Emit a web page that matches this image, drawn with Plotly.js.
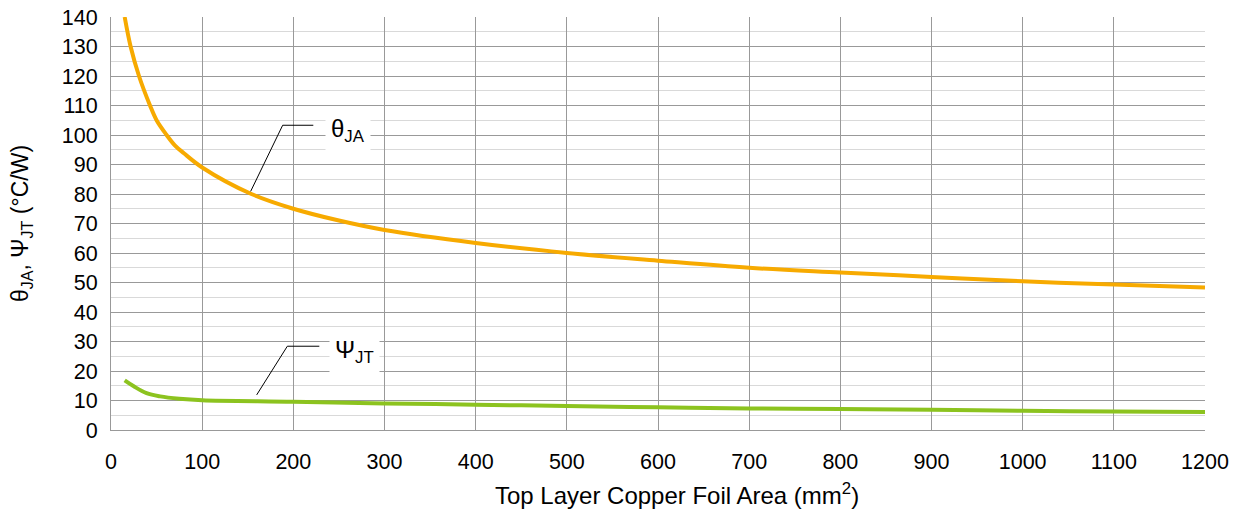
<!DOCTYPE html>
<html>
<head>
<meta charset="utf-8">
<script src="https://cdn.plot.ly/plotly-3.0.1.min.js"></script>
<style>
html,body{margin:0;padding:0;background:#fff;}
#chart{width:1243px;height:514px;}
</style>
</head>
<body>
<div id="chart"></div>
<script>
// Top layer copper foil area (mm^2)
var areaJA = [15, 21.5, 30.7, 42.8, 50, 61, 70, 80, 100, 154, 200, 250, 300, 400, 500, 600, 700, 800, 900, 1000, 1100, 1200];
// theta_JA (°C/W)
var thetaJA = [140, 130, 120, 110, 105, 100, 96.5, 93.8, 89, 80, 75, 71, 67.8, 63.4, 60, 57.4, 55, 53.4, 51.9, 50.4, 49.3, 48.3];

var areaJT = [15, 25, 39, 54, 75, 100, 200, 300, 400, 500, 600, 700, 800, 900, 1000, 1100, 1200];
// psi_JT (°C/W)
var psiJT = [16.8, 14.8, 12.5, 11.4, 10.6, 10.1, 9.6, 9.0, 8.6, 8.1, 7.7, 7.3, 7.1, 6.9, 6.5, 6.3, 6.1];

var xTitle = 'Top Layer Copper Foil Area (mm<sup>2</sup>)';
var yTitle = 'θ<sub>JA</sub>, Ψ<sub>JT</sub> (°C/W)';
var labelJA = 'θ<sub>JA</sub>';
var labelJT = 'Ψ<sub>JT</sub>';

var FONT = 'Arial, "Liberation Sans", sans-serif';

var traces = [
  {x: areaJA, y: thetaJA, mode: 'lines', line: {color: '#F7AA00', width: 4, shape: 'spline', smoothing: 1}, hoverinfo: 'skip'},
  {x: areaJT, y: psiJT, mode: 'lines', line: {color: '#8CC31F', width: 4, shape: 'spline', smoothing: 1}, hoverinfo: 'skip'}
];

var layout = {
  width: 1243, height: 514,
  margin: {l: 111, r: 38, t: 17, b: 84},
  paper_bgcolor: '#fff', plot_bgcolor: '#fff',
  showlegend: false,
  font: {family: FONT, size: 21, color: '#000'},
  xaxis: {
    range: [0, 1200], dtick: 100, tick0: 0,
    showgrid: true, gridcolor: '#999999', gridwidth: 1,
    zeroline: false, showline: true, linecolor: '#999999', linewidth: 1,
    ticks: 'outside', ticklen: 12, tickcolor: 'rgba(0,0,0,0)',
    tickfont: {size: 21.5, family: FONT, color: '#000'}
  },
  yaxis: {
    range: [0, 140], dtick: 10, tick0: 0,
    showgrid: true, gridcolor: '#999999', gridwidth: 1,
    minor: {dtick: 5, showgrid: true, gridcolor: '#d9d9d9', gridwidth: 1, ticks: ''},
    zeroline: false, showline: true, linecolor: '#999999', linewidth: 1,
    ticks: 'outside', ticklen: 8, tickcolor: 'rgba(0,0,0,0)',
    tickfont: {size: 21.5, family: FONT, color: '#000'},
    title: {text: yTitle, font: {size: 23, family: FONT, color: '#000'}, standoff: 26}
  },
  shapes: [
    {type: 'path', xref: 'x', yref: 'y', path: 'M 153.2 80.9 L 188.3 103.3 L 221.9 103.3', line: {color: '#000', width: 1}},
    {type: 'path', xref: 'x', yref: 'y', path: 'M 159.8 11.9 L 193.4 28.4 L 228.5 28.4', line: {color: '#000', width: 1}}
  ],
  annotations: [
    {x: 0.5174, y: -0.155, xref: 'paper', yref: 'paper', xanchor: 'center', yanchor: 'middle',
     text: xTitle, showarrow: false, font: {size: 24, family: FONT, color: '#000'}},
    {x: 260, y: 101.4, xref: 'x', yref: 'y', text: labelJA, showarrow: false,
     font: {size: 24, family: FONT, color: '#000'}, bgcolor: '#fff', borderpad: 5},
    {x: 267.6, y: 26.5, xref: 'x', yref: 'y', text: labelJT, showarrow: false,
     font: {size: 24, family: FONT, color: '#000'}, bgcolor: '#fff', borderpad: 5}
  ]
};

Plotly.newPlot('chart', traces, layout, {staticPlot: true, displayModeBar: false});
</script>
</body>
</html>
